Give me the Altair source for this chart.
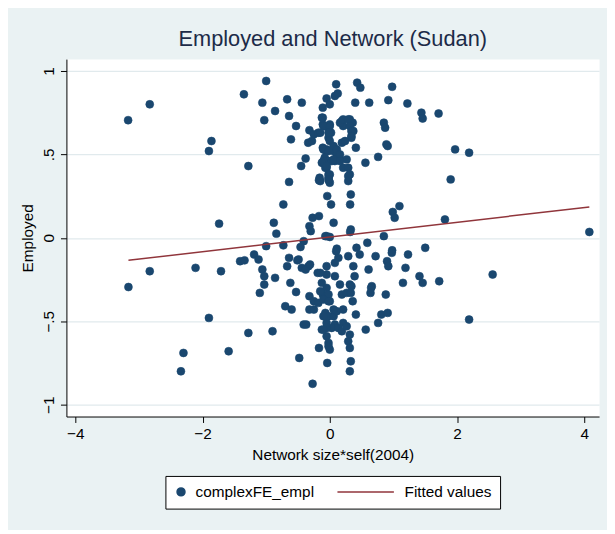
import altair as alt
import pandas as pd

# ---- data ----
emp_x = [
    -3.17, -2.83, -3.165, -2.83, -2.11, -1.71, -1.90, -2.30, -2.34, -1.59,
    -1.28, -0.90, -1.86, -1.90, -1.28, -1.74, -1.35, -1.00, -1.06, -0.86,
    -0.67, -0.44, -1.03, -0.64, -0.53, -0.61, -0.64, -0.73, -0.88, -0.84,
    -1.00, -0.73, -0.41, -0.46, -0.27, -0.17, -0.32, -0.30, -0.05, 0.06,
    -0.45, -0.38, -0.17, -0.01, -0.01, -0.04, 0.02, -0.32, -0.25, -0.34,
    -0.28, -0.18, -0.11, -0.05, 0.00, -0.11, -0.11, -0.05, 0.00, 0.02,
    0.10, 0.125, 0.08, 0.43, 0.48, 0.98, 0.40, 0.62, 0.92, 1.22,
    0.19, 0.21, 0.315, 0.36, 0.37, 0.34, 0.19, 0.24, 0.85, 0.87,
    0.41, 0.89, 0.91, 0.76, 0.56, -0.11, -0.06, -0.08, -0.02, 0.06,
    0.11, 0.08, 0.16, 0.265, 0.21, 0.29, 0.315, -0.11, -0.05, -0.16,
    -0.02, 0.29, 1.44, 1.46, 1.71, 1.97, 2.19, 1.90, 1.095, 0.99,
    1.02, 1.81, 4.08, 0.85, 0.59, 1.50, 0.33, 0.32, 0.33, 0.32,
    -0.15, 0.00, 0.29, -0.07, 0.00, 0.11, 0.42, 0.98, -1.19, -1.12,
    -1.06, -1.03, -1.03, -0.86, -0.64, -0.67, -0.49, -0.44, -0.335, -0.19,
    -0.05, 0.10, 0.135, 0.08, -0.05, -0.125, 0.08, 0.29, 0.47, 0.37,
    0.39, 0.315, 0.16, 0.72, 0.61, 0.66, 0.975, 0.90, 0.92, 1.23,
    1.19, 1.15, -0.62, -1.41, -1.34, -1.10, -0.51, -0.38, -0.31, -0.53,
    -0.70, -0.60, -0.32, -0.25, -0.32, -0.25, -0.41, -0.37, -0.17, -0.48,
    -0.04, -0.27, -0.18, -0.05, -0.11, -0.02, 0.00, -0.07, -0.02, 0.06,
    0.11, 0.08, 0.03, -0.05, -0.125, -0.05, -0.02, 0.00, 0.135, 0.19,
    0.21, 0.265, 0.315, 0.29, 0.315, 0.21, 0.19, 0.265, 0.34, 0.36,
    0.41, 0.565, 0.65, 0.64, 0.88, 0.81, 0.91, 0.76, 0.33, 0.315,
    2.56, 2.19, 1.72, 1.41, 1.46, 0.33, -0.15, -0.15, -0.10, -0.02,
    -0.10, -0.05, -0.10, -0.02, 0.06, -0.10, -0.05, -0.02, -0.07, -0.02,
    0.03, -0.125, -0.10, -0.15, 0.00, -0.02, 0.00, -0.10, -0.02, 0.06,
    0.11, 0.16, 0.21, 0.29, 0.315, 0.34, 0.34, 0.16, -0.125, -0.05,
    0.06, 0.16, 0.00, -0.02,
]
emp_y = [
    0.705, 0.80, -0.295, -0.20, -0.18, -0.20, -0.48, -0.69, -0.80, -0.68,
    -0.57, -0.56, 0.58, 0.52, 0.43, 0.085, 0.86, 0.94, 0.81, 0.76,
    0.83, 0.81, 0.705, 0.73, 0.67, 0.59, 0.335, 0.20, 0.09, 0.025,
    -0.05, -0.045, -0.02, -0.055, 0.12, 0.13, 0.07, 0.04, 0.01, 0.09,
    0.43, 0.475, 0.345, 0.34, 0.375, 0.25, 0.20, 0.645, 0.62, 0.57,
    0.58, 0.63, 0.78, 0.835, 0.80, 0.72, 0.68, 0.665, 0.68, 0.63,
    0.92, 0.865, 0.85, 0.93, 0.90, 0.905, 0.81, 0.81, 0.825, 0.805,
    0.70, 0.67, 0.71, 0.69, 0.64, 0.60, 0.57, 0.58, 0.69, 0.66,
    0.54, 0.56, 0.55, 0.485, 0.45, 0.54, 0.52, 0.48, 0.46, 0.52,
    0.50, 0.46, 0.47, 0.47, 0.42, 0.42, 0.38, 0.45, 0.42, 0.36,
    0.36, 0.37, 0.75, 0.715, 0.745, 0.53, 0.51, 0.35, 0.19, 0.155,
    0.12, 0.11, 0.035, 0.01, -0.03, -0.06, 0.05, 0.035, 0.26, 0.20,
    0.34, 0.33, 0.34, 0.01, 0.005, -0.065, -0.06, -0.075, -0.10, -0.13,
    -0.19, -0.23, -0.28, -0.24, -0.12, -0.17, -0.13, -0.18, -0.17, -0.21,
    -0.17, -0.08, -0.12, -0.15, -0.22, -0.27, -0.23, -0.11, -0.10, -0.17,
    -0.23, -0.28, -0.28, -0.11, -0.19, -0.29, -0.09, -0.14, -0.17, -0.10,
    -0.18, -0.27, -0.27, -0.14, -0.135, -0.33, -0.135, -0.19, -0.16, -0.325,
    -0.41, -0.43, -0.35, -0.38, -0.43, -0.43, -0.52, -0.52, -0.66, -0.72,
    -0.75, -0.875, -0.39, -0.30, -0.34, -0.34, -0.38, -0.45, -0.47, -0.47,
    -0.44, -0.52, -0.54, -0.54, -0.55, -0.59, -0.63, -0.67, -0.54, -0.56,
    -0.51, -0.53, -0.58, -0.62, -0.66, -0.43, -0.34, -0.33, -0.29, -0.38,
    -0.46, -0.55, -0.30, -0.33, -0.34, -0.46, -0.45, -0.51, -0.74, -0.80,
    -0.22, -0.49, -0.26, -0.23, -0.27, -0.33, -0.21, -0.32, -0.37, -0.38,
    -0.47, -0.51, -0.55, -0.65, -0.43, 0.46, 0.53, 0.60, 0.42, 0.38,
    0.46, 0.72, 0.67, 0.63, 0.67, 0.63, 0.58, 0.53, 0.52, 0.55,
    0.53, 0.69, 0.71, 0.71, 0.67, 0.64, 0.61, 0.50, 0.45, 0.43,
    0.47, 0.46, 0.38, 0.35,
]

# fitted line end points
fit_x = [-3.165, 4.08]
fit_y = [-0.135, 0.185]

series_names = ["complexFE_empl", "Fitted values"]
series_colors = ["#1a476f", "#90353b"]
series_shapes = ["circle", "M-13.25,0H1"]

x_ticks = [-4, -2, 0, 2, 4]
y_ticks = [-1, -0.5, 0, 0.5, 1]
y_tick_labels = ["\u22121", "\u2212.5", "0", ".5", "1"]

FONT = "Liberation Sans, Arial, Helvetica, sans-serif"

pts = pd.DataFrame({"x": emp_x, "y": emp_y, "series": series_names[0]})
fit = pd.DataFrame({"x": fit_x, "y": fit_y})

label_expr = "".join(
    f"datum.value == {v} ? '{t}' : " for v, t in zip(y_ticks, y_tick_labels)
) + "''"

xscale = alt.Scale(domain=[-4.14, 4.233], nice=False, zero=False)
yscale = alt.Scale(domain=[-1.071, 1.071], nice=False, zero=False)

x_axis = alt.Axis(values=x_ticks, format="d", labelPadding=4, tickSize=6,
                  grid=False, title="Network size*self(2004)", titlePadding=6)
y_axis = alt.Axis(values=y_ticks, labelExpr=label_expr, labelAngle=270,
                  labelAlign="center", labelBaseline="alphabetic",
                  labelPadding=7, tickSize=6, grid=True,
                  gridColor="#e1eaed", gridWidth=1.3,
                  title="Employed", titlePadding=6)

legend = alt.Legend(title=None, orient="none", legendX=100, legendY=421,
                    direction="horizontal", columns=2,
                    strokeColor="black", fillColor="white", padding=8,
                    cornerRadius=0, labelFont=FONT, labelFontSize=15.5,
                    labelColor="black", symbolSize=64, symbolStrokeWidth=1.5,
                    labelOffset=7, columnPadding=19)

fill_scale = alt.Scale(domain=series_names, range=series_colors)
stroke_scale = alt.Scale(domain=series_names, range=series_colors)
shape_scale = alt.Scale(domain=series_names, range=series_shapes)

points = alt.Chart(pts).mark_point(filled=True, size=64, strokeWidth=0.6, opacity=1).encode(
    x=alt.X("x:Q", scale=xscale, axis=x_axis),
    y=alt.Y("y:Q", scale=yscale, axis=y_axis),
    fill=alt.Fill("series:N", scale=fill_scale, legend=legend),
    stroke=alt.Stroke("series:N", scale=stroke_scale, legend=legend),
    shape=alt.Shape("series:N", scale=shape_scale, legend=legend),
)

line = alt.Chart(fit).mark_line(color=series_colors[1], strokeWidth=1.5).encode(
    x=alt.X("x:Q", scale=xscale),
    y=alt.Y("y:Q", scale=yscale),
)

chart = alt.layer(points, line).properties(
    width=538,
    height=361,
    autosize=alt.AutoSizeParams(type="none"),
    padding={"left": 59, "top": 49, "right": 8, "bottom": 112},
    background="#eaf2f3",
    title=alt.TitleParams("Employed and Network (Sudan)", font=FONT, fontSize=22,
                          fontWeight="normal", color="#1c2b48", anchor="middle",
                          baseline="alphabetic", offset=11, dy=20),
).configure_view(
    fill="white", stroke="transparent"
).configure_axis(
    labelFont=FONT, titleFont=FONT, labelFontSize=15.5, titleFontSize=15.5,
    labelColor="black", titleColor="black", titleFontWeight="normal",
    domainColor="black", tickColor="black", domainWidth=1, tickWidth=1,
)

chart.save("out.html", embed_options={"renderer": "svg", "actions": False})
